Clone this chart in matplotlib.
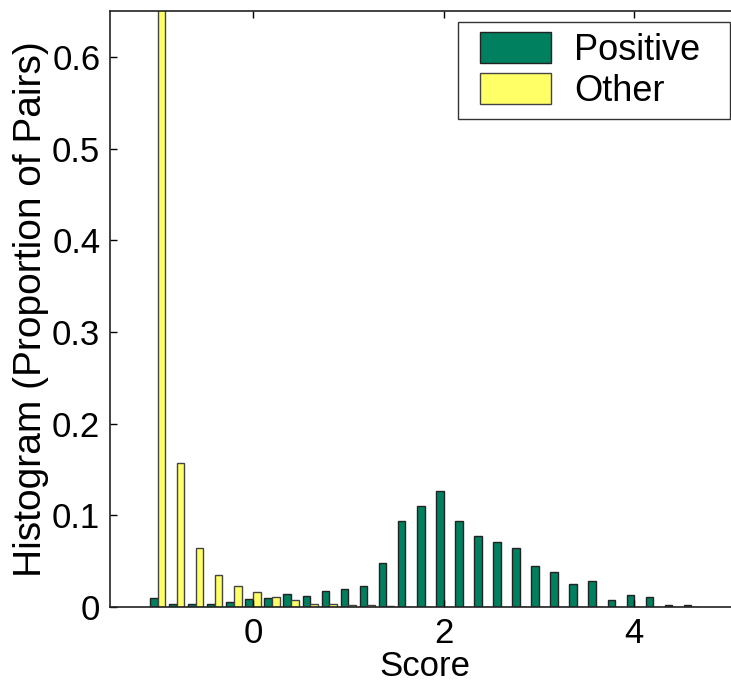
import numpy as np
import matplotlib
matplotlib.use("Agg")
import matplotlib.pyplot as plt
from matplotlib.patches import Rectangle
from matplotlib.legend_handler import HandlerPatch

plt.rcParams['font.family'] = ['Liberation Sans', 'DejaVu Sans']

# bin centres of the score histogram
bins = [-1.0, -0.8, -0.6, -0.4, -0.2, 0.0, 0.2, 0.4, 0.6, 0.8, 1.0, 1.2, 1.4,
        1.6, 1.8, 2.0, 2.2, 2.4, 2.6, 2.8, 3.0, 3.2, 3.4, 3.6, 3.8, 4.0, 4.2,
        4.4, 4.6]
positive = [0.010, 0.003, 0.003, 0.003, 0.0055, 0.0085, 0.0098, 0.014, 0.0116,
            0.0175, 0.020, 0.0225, 0.048, 0.094, 0.110, 0.1265, 0.094, 0.0775,
            0.0705, 0.0645, 0.045, 0.0377, 0.0254, 0.0287, 0.008, 0.0134,
            0.0105, 0.0025, 0.0025]
other = [0.70, 0.157, 0.064, 0.035, 0.0226, 0.0164, 0.0113, 0.0076, 0.0033,
         0.003, 0.002, 0.002, 0.0015, 0, 0, 0, 0, 0, 0, 0, 0, 0, 0, 0, 0, 0,
         0, 0, 0]

green = '#00805f'
yellow = '#ffff66'

fig = plt.figure(figsize=(7.31, 6.85), dpi=100)
# right edge of the axes runs off the picture, like the cropped original
ax = fig.add_axes([0.1505, 0.1139, 0.8605, 0.870])

x = np.array(bins)
w = 0.08
b1 = ax.bar(x - w / 2, positive, width=w, color=green, edgecolor='#222222',
            linewidth=1.0)
b2 = ax.bar(x + w / 2, other, width=w, color=yellow, edgecolor='#444444',
            linewidth=1.0)

ax.set_xlim(-1.5, 5.1)
ax.set_ylim(0, 0.65)
ax.set_xticks([0, 2, 4])
ax.set_yticks([0, 0.1, 0.2, 0.3, 0.4, 0.5, 0.6])
ax.set_yticklabels(['0', '0.1', '0.2', '0.3', '0.4', '0.5', '0.6'])
ax.tick_params(direction='in', length=5, width=1, labelsize=25,
               top=True, right=False, pad=7)
for s in ax.spines.values():
    s.set_linewidth(1.2)
    s.set_color('#222222')

ax.set_xlabel('Score', fontsize=25, labelpad=0)
ax.set_ylabel('Histogram (Proportion of Pairs)', fontsize=28, labelpad=2)


def wide_box(legend, orig_handle, xdescent, ydescent, width, height, fontsize):
    off = 9.0
    return Rectangle((-xdescent + off, -ydescent), width - off, height)


leg = ax.legend([b1.patches[0], b2.patches[0]],
                ['Positive\u00a0\u00a0', 'Other'],
                loc='upper right', bbox_to_anchor=(730 / 731, 1 - 22 / 685),
                bbox_transform=fig.transFigure, borderaxespad=0,
                fontsize=26, handlelength=2.3, handleheight=0.95,
                fancybox=False, framealpha=1, edgecolor='#333333',
                borderpad=0.27, handletextpad=0.65, labelspacing=0.15,
                handler_map={Rectangle: HandlerPatch(patch_func=wide_box)})
leg.get_frame().set_linewidth(1.0)

fig.savefig('out.png', dpi=100)
